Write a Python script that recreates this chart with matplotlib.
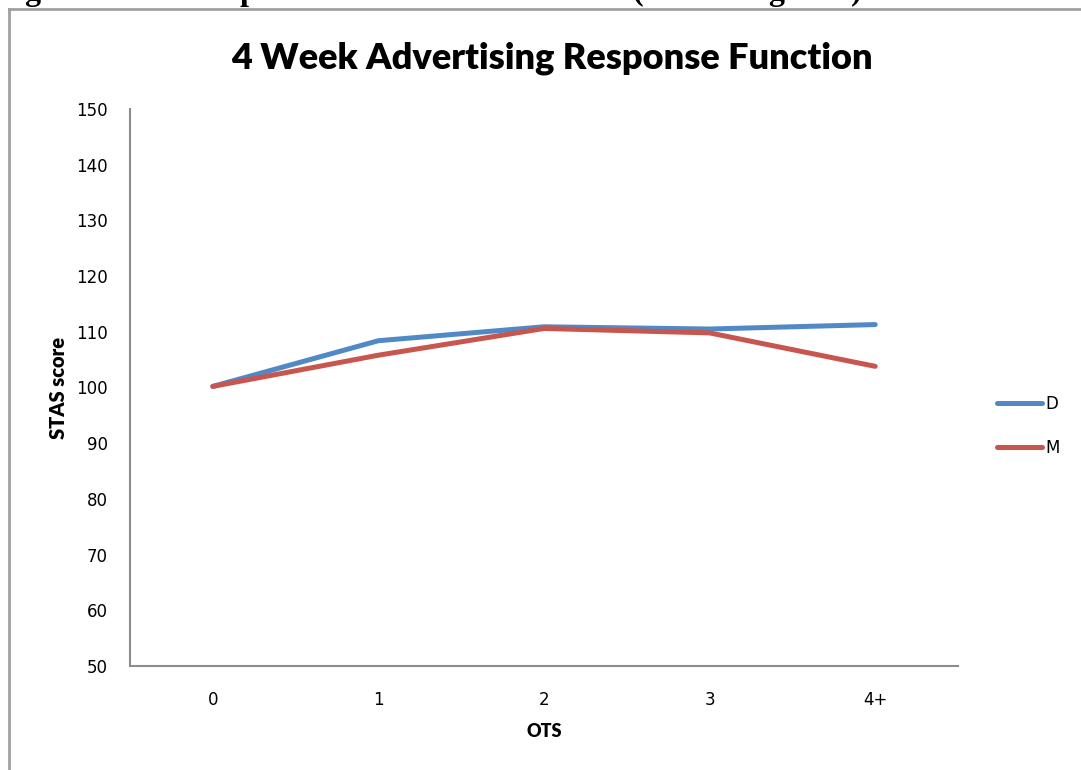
import matplotlib.pyplot as plt
from matplotlib.lines import Line2D

# data
categories = ["0", "1", "2", "3", "4+"]
d_scores = [100.2, 108.4, 110.9, 110.5, 111.3]
m_scores = [100.2, 105.8, 110.6, 109.8, 103.8]

W, H = 1081, 770
fig = plt.figure(figsize=(W / 100, H / 100), dpi=100)

# plot area
ax = fig.add_axes([130 / W, 1 - 666 / H, (958 - 130) / W, (666 - 109) / H])
x = range(len(categories))
ax.plot(x, d_scores, color="#5089C6", lw=3.6, solid_capstyle="round", label="D")
ax.plot(x, m_scores, color="#C9554F", lw=3.6, solid_capstyle="round", label="M")

ax.set_xlim(-0.5, len(categories) - 0.5)
ax.set_ylim(50, 150)
ax.set_yticks(range(50, 151, 10))
ax.set_xticks(list(x))
ax.set_xticklabels(categories)
ax.tick_params(length=0, labelsize=12)
ax.tick_params(axis="y", pad=16)
ax.tick_params(axis="x", pad=18)

for s in ["top", "right"]:
    ax.spines[s].set_visible(False)
for s in ["left", "bottom"]:
    ax.spines[s].set_color("#8c8c8c")
    ax.spines[s].set_linewidth(1.5)

ax.set_ylabel("STAS score", fontfamily="Lato", fontweight="heavy", fontsize=14.5, labelpad=6)
ax.set_xlabel("OTS", fontfamily="Lato", fontweight="heavy", fontsize=13, labelpad=10)

fig.text(552 / W, 1 - 58 / H, "4 Week Advertising Response Function",
         fontfamily="Lato", fontweight="heavy", fontsize=26, ha="center", va="center")

ax.legend(loc="center left", bbox_to_anchor=(997 / W, 1 - 426 / H),
          bbox_transform=fig.transFigure, frameon=False, fontsize=12,
          borderpad=0, borderaxespad=0, handlelength=2.7, handletextpad=0.2,
          labelspacing=1.6)

# outer chart border (cut by the page edge) and clipped caption above it
fig.add_artist(Line2D([8.5 / W, 8.5 / W], [0, 1 - 8.5 / H], transform=fig.transFigure,
                      color="#a0a0a0", lw=2))
fig.add_artist(Line2D([8.5 / W, 1], [1 - 8.5 / H, 1 - 8.5 / H], transform=fig.transFigure,
                      color="#a0a0a0", lw=2))
fig.text(25 / W, 1.0, "gure 4: stats response function for television (both categories)",
         fontfamily="Liberation Serif", fontweight="bold", fontsize=23,
         ha="left", va="baseline")

fig.savefig("out.png", dpi=100)
